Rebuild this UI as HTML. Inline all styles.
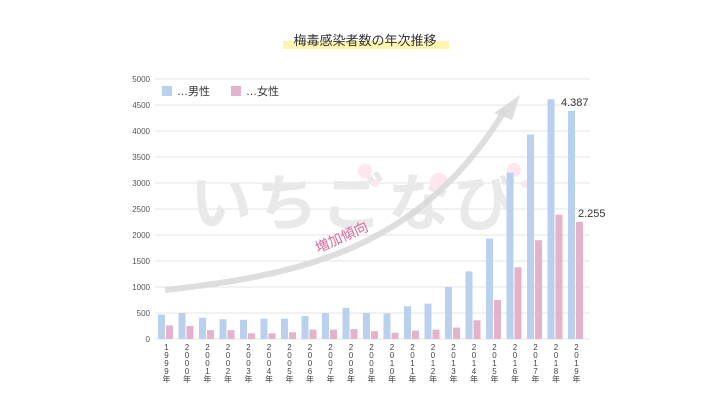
<!DOCTYPE html>
<html><head><meta charset="utf-8"><style>
html,body{margin:0;padding:0;background:#fff;}
svg{display:block;font-family:"Liberation Sans","Noto Sans CJK JP",sans-serif;}
</style></head><body>
<svg width="720" height="407" viewBox="0 0 720 407">
<rect x="283" y="41" width="166" height="8" fill="#fdf5b0"/>
<text x="365" y="45" font-size="13" text-anchor="middle" fill="#333">梅毒感染者数の年次推移</text>
<g stroke="#e6e6e6" stroke-width="1">
<line x1="155" x2="590" y1="79" y2="79"/><line x1="155" x2="590" y1="105" y2="105"/>
<line x1="155" x2="590" y1="131" y2="131"/><line x1="155" x2="590" y1="157" y2="157"/>
<line x1="155" x2="590" y1="183" y2="183"/><line x1="155" x2="590" y1="209" y2="209"/>
<line x1="155" x2="590" y1="235" y2="235"/><line x1="155" x2="590" y1="261" y2="261"/>
<line x1="155" x2="590" y1="287" y2="287"/><line x1="155" x2="590" y1="313" y2="313"/>
<line x1="155" x2="590" y1="339" y2="339"/>
</g>
<g font-size="8" fill="#555" text-anchor="end">
<text x="150" y="82">5000</text><text x="150" y="108">4500</text><text x="150" y="134">4000</text>
<text x="150" y="160">3500</text><text x="150" y="186">3000</text><text x="150" y="212">2500</text>
<text x="150" y="238">2000</text><text x="150" y="264">1500</text><text x="150" y="290">1000</text>
<text x="150" y="316">500</text><text x="150" y="342">0</text>
</g>
<text x="190" y="225" font-size="62" font-weight="bold" fill="#e9e9e9" letter-spacing="4">いちごなび</text>
<circle cx="365" cy="171" r="7" fill="#fde6ee"/><circle cx="375" cy="183" r="4" fill="#fde6ee"/>
<circle cx="439" cy="182" r="9" fill="#fde6ee"/>
<circle cx="514" cy="170" r="7" fill="#fde6ee"/><circle cx="525" cy="184" r="4" fill="#fde6ee"/>
<g id="bars"></g>
<path d="M165,290 C300,275 420,250 505,110" fill="none" stroke="#d8d8d8" stroke-width="6" opacity="0.85"/>
<path d="M520,95 L494,113 L512,120 Z" fill="#d8d8d8" opacity="0.85"/>
<text x="0" y="0" font-size="14" fill="#d46a9a" transform="translate(318,253) rotate(-24)">増加傾向</text>
<rect x="162" y="86" width="10" height="10" fill="#b9d0ee"/>
<text x="177" y="95" font-size="11" fill="#333">…男性</text>
<rect x="231" y="86" width="10" height="10" fill="#e5b2cb"/>
<text x="246" y="95" font-size="11" fill="#333">…女性</text>
<text x="561" y="106" font-size="11" fill="#333">4.387</text>
<text x="578" y="217" font-size="11" fill="#333">2.255</text>
<g font-size="8" fill="#444" text-anchor="middle" id="lbl">
<text y="350"><tspan x="166.5">1</tspan><tspan x="166.5" dy="8">9</tspan><tspan x="166.5" dy="8">9</tspan><tspan x="166.5" dy="8">9</tspan><tspan x="166.5" dy="8">年</tspan></text>
<text y="350"><tspan x="187">2</tspan><tspan x="187" dy="8">0</tspan><tspan x="187" dy="8">0</tspan><tspan x="187" dy="8">0</tspan><tspan x="187" dy="8">年</tspan></text>
<text y="350"><tspan x="207.5">2</tspan><tspan x="207.5" dy="8">0</tspan><tspan x="207.5" dy="8">0</tspan><tspan x="207.5" dy="8">1</tspan><tspan x="207.5" dy="8">年</tspan></text>
<text y="350"><tspan x="228">2</tspan><tspan x="228" dy="8">0</tspan><tspan x="228" dy="8">0</tspan><tspan x="228" dy="8">2</tspan><tspan x="228" dy="8">年</tspan></text>
<text y="350"><tspan x="248.5">2</tspan><tspan x="248.5" dy="8">0</tspan><tspan x="248.5" dy="8">0</tspan><tspan x="248.5" dy="8">3</tspan><tspan x="248.5" dy="8">年</tspan></text>
<text y="350"><tspan x="269">2</tspan><tspan x="269" dy="8">0</tspan><tspan x="269" dy="8">0</tspan><tspan x="269" dy="8">4</tspan><tspan x="269" dy="8">年</tspan></text>
<text y="350"><tspan x="289.5">2</tspan><tspan x="289.5" dy="8">0</tspan><tspan x="289.5" dy="8">0</tspan><tspan x="289.5" dy="8">5</tspan><tspan x="289.5" dy="8">年</tspan></text>
<text y="350"><tspan x="310">2</tspan><tspan x="310" dy="8">0</tspan><tspan x="310" dy="8">0</tspan><tspan x="310" dy="8">6</tspan><tspan x="310" dy="8">年</tspan></text>
<text y="350"><tspan x="330.5">2</tspan><tspan x="330.5" dy="8">0</tspan><tspan x="330.5" dy="8">0</tspan><tspan x="330.5" dy="8">7</tspan><tspan x="330.5" dy="8">年</tspan></text>
<text y="350"><tspan x="351">2</tspan><tspan x="351" dy="8">0</tspan><tspan x="351" dy="8">0</tspan><tspan x="351" dy="8">8</tspan><tspan x="351" dy="8">年</tspan></text>
<text y="350"><tspan x="371.5">2</tspan><tspan x="371.5" dy="8">0</tspan><tspan x="371.5" dy="8">0</tspan><tspan x="371.5" dy="8">9</tspan><tspan x="371.5" dy="8">年</tspan></text>
<text y="350"><tspan x="392">2</tspan><tspan x="392" dy="8">0</tspan><tspan x="392" dy="8">1</tspan><tspan x="392" dy="8">0</tspan><tspan x="392" dy="8">年</tspan></text>
<text y="350"><tspan x="412.5">2</tspan><tspan x="412.5" dy="8">0</tspan><tspan x="412.5" dy="8">1</tspan><tspan x="412.5" dy="8">1</tspan><tspan x="412.5" dy="8">年</tspan></text>
<text y="350"><tspan x="433">2</tspan><tspan x="433" dy="8">0</tspan><tspan x="433" dy="8">1</tspan><tspan x="433" dy="8">2</tspan><tspan x="433" dy="8">年</tspan></text>
<text y="350"><tspan x="453.5">2</tspan><tspan x="453.5" dy="8">0</tspan><tspan x="453.5" dy="8">1</tspan><tspan x="453.5" dy="8">3</tspan><tspan x="453.5" dy="8">年</tspan></text>
<text y="350"><tspan x="474">2</tspan><tspan x="474" dy="8">0</tspan><tspan x="474" dy="8">1</tspan><tspan x="474" dy="8">4</tspan><tspan x="474" dy="8">年</tspan></text>
<text y="350"><tspan x="494.5">2</tspan><tspan x="494.5" dy="8">0</tspan><tspan x="494.5" dy="8">1</tspan><tspan x="494.5" dy="8">5</tspan><tspan x="494.5" dy="8">年</tspan></text>
<text y="350"><tspan x="515">2</tspan><tspan x="515" dy="8">0</tspan><tspan x="515" dy="8">1</tspan><tspan x="515" dy="8">6</tspan><tspan x="515" dy="8">年</tspan></text>
<text y="350"><tspan x="535.5">2</tspan><tspan x="535.5" dy="8">0</tspan><tspan x="535.5" dy="8">1</tspan><tspan x="535.5" dy="8">7</tspan><tspan x="535.5" dy="8">年</tspan></text>
<text y="350"><tspan x="556">2</tspan><tspan x="556" dy="8">0</tspan><tspan x="556" dy="8">1</tspan><tspan x="556" dy="8">8</tspan><tspan x="556" dy="8">年</tspan></text>
<text y="350"><tspan x="576.5">2</tspan><tspan x="576.5" dy="8">0</tspan><tspan x="576.5" dy="8">1</tspan><tspan x="576.5" dy="8">9</tspan><tspan x="576.5" dy="8">年</tspan></text>
</g>
</svg>
<script>
var m=[470,500,410,380,370,390,390,440,500,600,500,490,630,680,1000,1300,1930,3200,3930,4610,4387];
var f=[260,250,170,170,110,110,130,180,180,190,150,120,160,180,220,360,750,1380,1900,2390,2255];
var g=document.getElementById('bars'),s='';
for(var i=0;i<21;i++){var x=158+i*20.5,hm=m[i]*0.052,hf=f[i]*0.052;
s+='<rect x="'+x+'" y="'+(339-hm)+'" width="7" height="'+hm+'" fill="#b9d0ee"/>';
s+='<rect x="'+(x+8)+'" y="'+(339-hf)+'" width="7" height="'+hf+'" fill="#e5b2cb"/>';}
g.innerHTML=s;
</script>
</body></html>
